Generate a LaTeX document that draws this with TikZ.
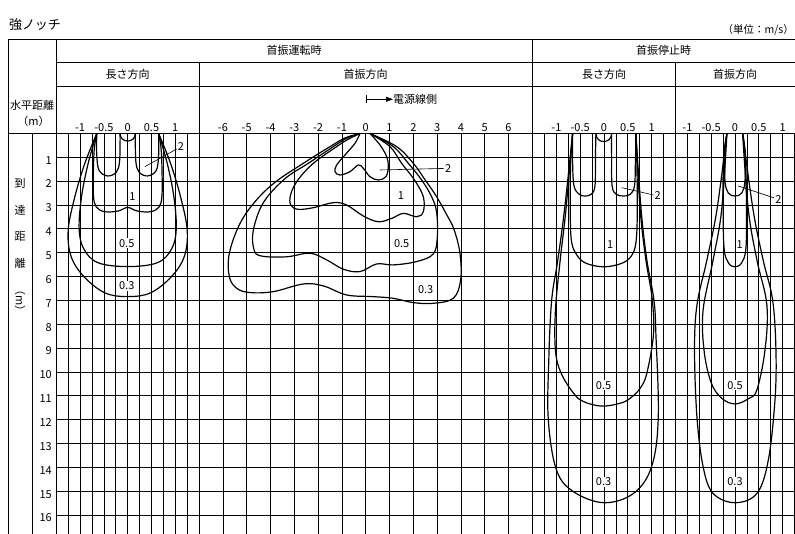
\documentclass[tikz,border=0pt]{standalone}
\usepackage{fontspec}
\usepackage{tikz}
\usetikzlibrary{arrows.meta}
\newfontfamily\jpfont{Noto Sans CJK JP}
\tikzstyle{head} = [font=\jpfont\fontsize{11}{13}\selectfont, inner sep=0pt]
\tikzstyle{num} = [font=\jpfont\fontsize{11}{13}\selectfont, inner sep=0pt]
\tikzstyle{val} = [font=\jpfont\fontsize{11}{13}\selectfont, fill=white, inner sep=1pt]
\tikzstyle{rule} = [line width=0.8pt]
\tikzstyle{iso} = [line width=1.2pt, smooth, tension=0.6]
\tikzstyle{leader} = [line width=0.6pt]

\begin{document}
\begin{tikzpicture}[x=1pt, y=-1pt]
    \useasboundingbox (0,0) rectangle (795,534);
    \node[anchor=west, inner sep=0pt, font=\jpfont\fontsize{13}{15}\selectfont] (title) at (9,25) {強ノッチ};
    \node[anchor=east, inner sep=0pt, font=\jpfont\fontsize{10.5}{12}\selectfont] (unit) at (794,30) {（単位：m/s）};
    % table frame
    \draw[rule] (8.5,39) -- (795,39);
    \draw[rule] (56,62.3) -- (795,62.3);
    \draw[rule] (56,86.7) -- (795,86.7);
    \draw[rule] (8.5,133.5) -- (795,133.5);
    \draw[rule] (8.5,39) -- (8.5,534);
    \draw[rule] (56,39) -- (56,534);
    \draw[rule] (32,133.5) -- (32,534);
    \draw[rule] (532.4,39) -- (532.4,534);
    \draw[rule] (199.1,62.3) -- (199.1,534);
    \draw[rule] (675.5,62.3) -- (675.5,534);
    \node[head] (run) at (294.2,50.7) {首振運転時};
    \node[head] (stop) at (663.7,50.7) {首振停止時};
    \node[head] (len1) at (127.7,74.5) {長さ方向};
    \node[head] (swg1) at (365.7,74.5) {首振方向};
    \node[head] (len2) at (604,74.5) {長さ方向};
    \node[head] (swg2) at (735,74.5) {首振方向};
    \node[head] (hdist) at (32,105) {水平距離};
    \node[head] (hunit) at (33.5,121.5) {（m）};
    \coordinate (orig) at (365.7,99.3);
    \node[head, anchor=west] (side) at (393,99.3) {電源線側};
    \draw[line width=0.7pt, {Bar[width=8pt]}-{Triangle[length=7pt,width=5pt]}] (orig) -- (side.west);
    \node[head] (d1) at (20,183.3) {到};
    \node[head] (d2) at (20,210) {達};
    \node[head] (d3) at (20,236.7) {距};
    \node[head] (d4) at (20,263.3) {離};
    \node[head, rotate=-90] (d5) at (20,300.5) {（m）};
    % grid
    \foreach \k in {1,...,16} {
        \draw[rule] (56,{133.5+23.85*\k}) -- (795,{133.5+23.85*\k});
        \node[num, anchor=base east] (r\k) at (52,{133.5+23.85*\k+6.8}) {\k};
    }
    \foreach \k in {-5,...,5} {
        \draw[rule] ({127.7+11.9*\k},133.5) -- ({127.7+11.9*\k},534);
        \draw[rule] ({604+11.9*\k},133.5) -- ({604+11.9*\k},534);
    }
    \foreach \k in {-6,...,6} \draw[rule] ({365.7+23.8*\k},133.5) -- ({365.7+23.8*\k},534);
    \foreach \k in {-4,...,5} \draw[rule] ({735+11.9*\k},133.5) -- ({735+11.9*\k},534);
    \foreach \v [count=\i] in {-1,-0.5,0,0.5,1} {
        \node[num, anchor=base] (xa\i) at ({127.7+47.6*\v},131.3) {\v};
        \node[num, anchor=base] (xc\i) at ({604+47.6*\v},131.3) {\v};
        \node[num, anchor=base] (xd\i) at ({735+47.6*\v},131.3) {\v};
    }
    \foreach \v [count=\i] in {-6,...,6} \node[num, anchor=base] (xb\i) at ({365.7+23.8*\v},131.3) {\v};
    % running, length direction
    \begin{scope}[shift={(127.7pt,-133.5pt)}, x=47.6pt, y=-23.85pt]
        \draw[iso] plot coordinates {(-0.65,0) (-0.65,0.9) (-0.6,1.55) (-0.42,1.78) (-0.24,1.62) (-0.17,1.15) (-0.16,0)};
        \draw[iso] plot coordinates {(0.16,0) (0.17,1.15) (0.24,1.62) (0.42,1.78) (0.6,1.55) (0.65,0.9) (0.65,0)};
        \draw[line width=1.2pt] (-0.16,0) .. controls (-0.16,0.42) and (0.16,0.42) .. (0.16,0);
        \draw[iso] plot coordinates {(-0.65,0) (-0.7,0.6) (-0.72,1.5) (-0.72,2.6) (-0.66,3.08) (-0.48,3.28) (-0.2,3.25) (0,3.1) (0.2,3.25) (0.48,3.28) (0.66,3.08) (0.72,2.6) (0.72,1.5) (0.7,0.6) (0.65,0)};
        \draw[iso] plot coordinates {(-0.65,0) (-0.83,1.25) (-0.97,2.65) (-1.02,4.0) (-0.92,4.85) (-0.62,5.42) (0,5.58) (0.62,5.42) (0.92,4.85) (1.02,4.0) (0.97,2.65) (0.83,1.25) (0.65,0)};
        \draw[iso] plot coordinates {(-0.65,0) (-0.9,1.25) (-1.11,2.65) (-1.25,4.05) (-1.19,5.15) (-0.92,6.0) (-0.48,6.68) (0,6.84) (0.48,6.68) (0.92,6.0) (1.19,5.15) (1.25,4.05) (1.11,2.65) (0.9,1.25) (0.65,0)};
        \coordinate (ae) at (0.36,1.39);
        \node[val] (a2) at (1.12,0.55) {2};
        \draw[leader] (a2) -- (ae);
        \node[val] (a1) at (0.1,2.65) {1};
        \node[val] (a05) at (-0.02,4.6) {0.5};
        \node[val] (a03) at (-0.02,6.39) {0.3};
    \end{scope}
    % running, swing direction
    \begin{scope}[shift={(365.7pt,-133.5pt)}, x=23.8pt, y=-23.85pt]
        \draw[iso] plot coordinates {(-0.24,0) (-0.45,0.41) (-0.87,0.9) (-1.22,1.32) (-1.29,1.6) (-1.08,1.74) (-0.66,1.6) (-0.31,1.32) (-0.1,1.46) (0.18,1.81) (0.53,1.95) (0.85,1.81) (0.95,1.39) (0.88,0.97) (0.6,0.48) (0.18,0)};
        \draw[iso] plot coordinates {(-0.24,0) (-0.75,0.25) (-1.22,0.55) (-2.2,1.25) (-2.85,1.95) (-3.15,2.55) (-3.15,3.0) (-2.83,3.18) (-2.2,3.11) (-1.36,2.9) (-0.8,3.0) (-0.1,3.46) (0.53,3.7) (1.09,3.56) (1.58,3.35) (2.14,3.49) (2.42,3.28) (2.42,2.65) (2.05,1.95) (1.51,1.25) (1.02,0.55) (0.18,0)};
        \draw[iso] plot coordinates {(-0.24,0) (-0.8,0.2) (-1.36,0.55) (-2.41,1.25) (-3.4,1.9) (-4.3,2.9) (-4.72,4.05) (-4.69,4.88) (-4.37,5.14) (-3.32,5.17) (-2.34,5.02) (-1.64,5.3) (-0.94,5.69) (-0.24,5.79) (0.46,5.47) (1.16,5.51) (2.14,5.37) (2.84,5.05) (3.01,4.33) (2.98,3.3) (2.77,2.65) (2.35,1.95) (1.79,1.25) (1.16,0.55) (0.18,0)};
        \draw[iso] plot coordinates {(-0.24,0) (-0.85,0.18) (-1.5,0.55) (-2.62,1.25) (-3.75,2.0) (-4.6,2.8) (-5.28,3.77) (-5.73,5.02) (-5.73,6.0) (-5.42,6.49) (-4.86,6.67) (-3.88,6.63) (-2.62,6.31) (-1.78,6.39) (-0.8,6.77) (0.32,6.84) (1.16,6.91) (2.0,7.09) (2.84,7.12) (3.68,6.91) (3.99,6.14) (3.96,5.02) (3.71,4.02) (3.4,3.4) (2.98,2.65) (2.5,1.95) (2.0,1.25) (1.3,0.55) (0.18,0)};
        \coordinate (be) at (0.6,1.53);
        \node[val] (b2) at (3.47,1.46) {2};
        \draw[leader] (b2) -- (be);
        \node[val] (b1) at (1.48,2.62) {1};
        \node[val] (b05) at (1.51,4.63) {0.5};
        \node[val] (b03) at (2.52,6.56) {0.3};
    \end{scope}
    % stopped, length direction
    \begin{scope}[shift={(604pt,-133.5pt)}, x=47.6pt, y=-23.85pt]
        \draw[iso] plot coordinates {(-0.66,0) (-0.66,1.2) (-0.63,2.2) (-0.52,2.55) (-0.4,2.62) (-0.27,2.55) (-0.19,2.2) (-0.18,1.0) (-0.17,0)};
        \draw[iso] plot coordinates {(0.16,0) (0.16,1.0) (0.17,2.2) (0.26,2.55) (0.41,2.62) (0.55,2.55) (0.64,2.2) (0.66,1.2) (0.67,0)};
        \draw[line width=1.2pt] (-0.17,0) .. controls (-0.17,0.45) and (0.16,0.45) .. (0.16,0);
        \draw[iso] plot coordinates {(-0.66,0) (-0.7,1.2) (-0.71,3.0) (-0.69,4.4) (-0.6,5.0) (-0.4,5.42) (0,5.59) (0.4,5.42) (0.6,5.05) (0.68,4.4) (0.7,3.0) (0.69,1.2) (0.67,0)};
        \draw[iso] plot coordinates {(-0.66,0) (-0.8,3.2) (-0.92,5.3) (-1.02,7.4) (-1.02,9.1) (-0.9,10.05) (-0.64,10.89) (-0.43,11.24) (-0.05,11.43) (0.34,11.31) (0.55,11.1) (0.76,10.68) (0.9,10.05) (1.04,8.4) (1.01,6.9) (0.88,5.3) (0.76,3.2) (0.67,0)};
        \draw[iso] plot coordinates {(-0.66,0) (-0.83,3.2) (-0.97,5.3) (-1.1,7.0) (-1.16,9.5) (-1.17,12.0) (-1.0,14.1) (-0.64,15.02) (0,15.48) (0.62,15.09) (1.0,13.97) (1.14,11.9) (1.09,8.4) (1.05,7.0) (0.9,5.3) (0.78,3.2) (0.67,0)};
        \coordinate (ce) at (0.37,2.27);
        \node[val] (c2) at (1.13,2.62) {2};
        \draw[leader] (c2) -- (ce);
        \node[val] (c1) at (0.13,4.65) {1};
        \node[val] (c05) at (-0.01,10.55) {0.5};
        \node[val] (c03) at (-0.01,14.6) {0.3};
    \end{scope}
    % stopped, swing direction
    \begin{scope}[shift={(735pt,-133.5pt)}, x=47.6pt, y=-23.85pt]
        \draw[iso] plot coordinates {(-0.17,0) (-0.21,0.8) (-0.21,2.0) (-0.14,2.5) (0,2.62) (0.14,2.5) (0.21,2.0) (0.21,0.8) (0.16,0)};
        \draw[iso] plot coordinates {(-0.17,0) (-0.24,1.0) (-0.25,3.0) (-0.23,4.8) (-0.14,5.42) (0,5.59) (0.14,5.42) (0.23,4.8) (0.24,3.0) (0.22,1.0) (0.16,0)};
        \draw[iso] plot coordinates {(-0.17,0) (-0.28,3.2) (-0.46,5.3) (-0.67,7.4) (-0.65,9.1) (-0.5,10.45) (-0.28,11.1) (0,11.34) (0.28,11.12) (0.46,10.75) (0.63,9.08) (0.67,7.2) (0.46,5.3) (0.28,3.2) (0.16,0)};
        \draw[iso] plot coordinates {(-0.17,0) (-0.38,3.2) (-0.59,5.3) (-0.8,7.2) (-0.85,9.1) (-0.8,11.87) (-0.67,13.97) (-0.46,15.09) (0,15.48) (0.46,15.09) (0.7,13.69) (0.84,11.17) (0.86,9.08) (0.79,6.98) (0.59,5.3) (0.38,3.2) (0.16,0)};
        \coordinate (de) at (0.07,2.2);
        \node[val] (e2) at (0.91,2.76) {2};
        \draw[leader] (e2) -- (de);
        \node[val] (e1) at (0.1,4.65) {1};
        \node[val] (e05) at (0,10.55) {0.5};
        \node[val] (e03) at (0,14.6) {0.3};
    \end{scope}
\end{tikzpicture}
\end{document}
